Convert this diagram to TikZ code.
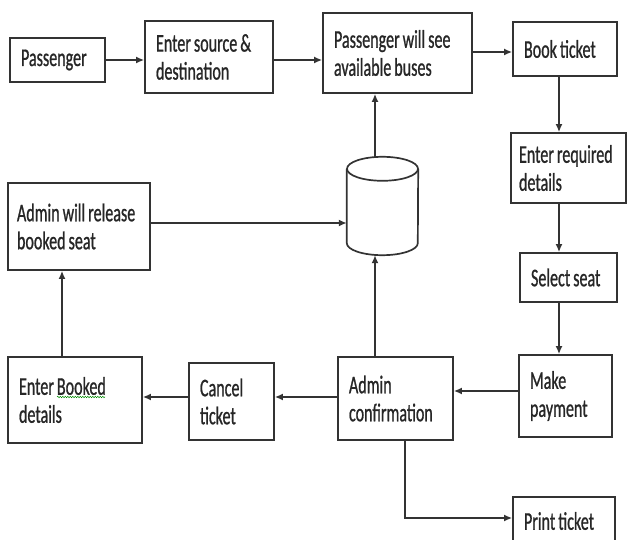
\documentclass[tikz,border=0pt]{standalone}
\usepackage{fontspec}
\setmainfont{Carlito}[FakeStretch=0.63, FakeBold=0.8]
\usetikzlibrary{arrows.meta,calc,decorations.pathmorphing}
\newcommand{\boxfont}{\fontsize{25.5}{28}\selectfont}
\newcommand{\ws}{\hspace{3pt}}
\begin{document}
\begin{tikzpicture}[x=1pt,y=-1pt,
  bx/.style={draw=black!80, line width=1.7pt, inner xsep=11pt, inner ysep=0pt,
    align=left, font=\boxfont, text=black!85},
  arr/.style={draw=black!80, line width=1.7pt, -{Latex[length=8pt,width=7pt]}},
  dbline/.style={draw=black!80, line width=1.7pt},
  dbsty/.style={minimum width=71pt, minimum height=98pt, inner sep=0pt}]
\useasboundingbox (0,0) rectangle (630,540);

\node[bx, minimum width=95pt, minimum height=44pt, text width=73pt] (pass) at (57.5,60) {Passenger};
\node[bx, minimum width=128pt, minimum height=72pt, text width=106pt] (src) at (209,57) {Enter\ws source\ws\&\\destination};
\node[bx, minimum width=149pt, minimum height=80pt, text width=127pt, inner xsep=10pt] (see) at (397.5,53) {Passenger\ws will\ws see\\available\ws buses};
\node[bx, minimum width=104pt, minimum height=54pt, text width=82pt] (book) at (565,49) {Book\ws ticket};
\node[bx, minimum width=115pt, minimum height=70pt, text width=99pt, inner xsep=8pt] (req) at (568.5,168) {Enter\ws required\\details};
\node[bx, minimum width=97pt, minimum height=49pt, text width=75pt] (seat) at (568.5,277.5) {Select\ws seat};
\node[bx, minimum width=93pt, minimum height=82pt, text width=71pt] (pay) at (565.5,396) {Make\\payment};
\node[bx, minimum width=115pt, minimum height=83pt, text width=93pt] (conf) at (395.5,398.5) {Admin\\confirmation};
\node[bx, minimum width=85pt, minimum height=77pt, text width=63pt] (cancel) at (231.5,401.5) {Cancel\\ticket};
\node[bx, minimum width=134pt, minimum height=86pt, text width=112pt, inner xsep=10pt] (booked) at (75,400) {Enter\ws Booked\\details};
\node[bx, minimum width=142pt, minimum height=87pt, text width=124pt, inner xsep=9pt] (release) at (79,226.5) {Admin\ws will\ws release\\booked\ws seat};
\node[bx, minimum width=102pt, minimum height=48pt, text width=80pt] (print) at (564,521) {Print\ws ticket};

% database cylinder
\node[dbsty] (db) at (382.5,206) {};
\draw[dbline] ($(db.north)+(0,12)$) ellipse [x radius=35.5, y radius=12];
\draw[dbline] ($(db.north west)+(0,12)$) -- ($(db.south west)+(0,-12)$)
  arc[start angle=180, end angle=0, x radius=35.5, y radius=12]
  -- ($(db.north east)+(0,12)$);

\coordinate (vR) at (559,0);
\coordinate (vD) at (375,0);
\coordinate (vL) at (62,0);
\coordinate (vP) at (405,0);
\coordinate (hTop) at (0,60);
\coordinate (hBook) at (0,52);
\coordinate (hPay) at (0,391);
\coordinate (hCan) at (0,397);
\coordinate (hRel) at (0,223);
\coordinate (hPr) at (0,518);

\draw[arr] (pass.east |- hTop) -- (src.west |- hTop);
\draw[arr] (src.east |- hTop) -- (see.west |- hTop);
\draw[arr] (see.east |- hBook) -- (book.west |- hBook);
\draw[arr] (book.south -| vR) -- (req.north -| vR);
\draw[arr] (req.south -| vR) -- (seat.north -| vR);
\draw[arr] (seat.south -| vR) -- (pay.north -| vR);
\draw[arr] (pay.west |- hPay) -- (conf.east |- hPay);
\draw[arr] (conf.west |- hCan) -- (cancel.east |- hCan);
\draw[arr] (cancel.west |- hCan) -- (booked.east |- hCan);
\draw[arr] (booked.north -| vL) -- (release.south -| vL);
\draw[arr] (release.east |- hRel) -- (db.west |- hRel);
\draw[arr] (conf.north -| vD) -- (db.south -| vD);
\draw[arr] (db.north -| vD) -- (see.south -| vD);
\draw[arr] (conf.south -| vP) -- (vP |- hPr) -- (print.west |- hPr);

\draw[green!55!black, line width=0.5pt, decorate,
  decoration={snake, amplitude=0.7pt, segment length=2.5pt}] (57,397) -- (105,397);
\end{tikzpicture}
\end{document}
